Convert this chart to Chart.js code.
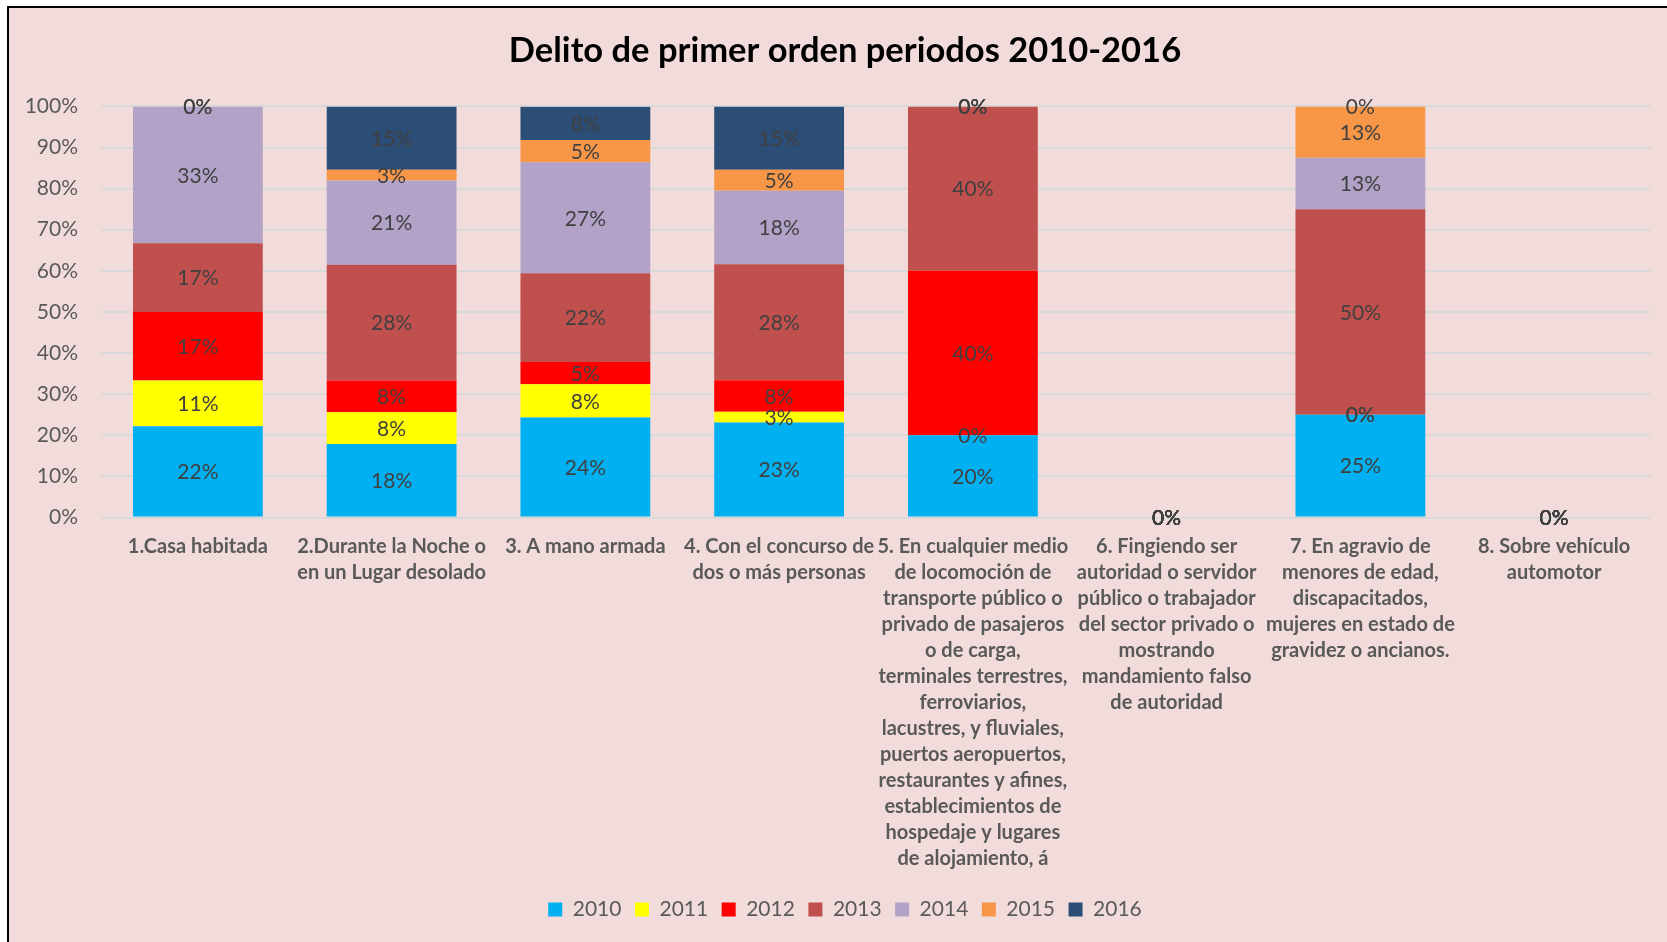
<!DOCTYPE html>
<html>
<head>
<meta charset="utf-8">
<title>Delito de primer orden periodos 2010-2016</title>
<script src="https://cdn.jsdelivr.net/npm/chart.js@4.4.1/dist/chart.umd.min.js"></script>
<style>
  body { margin: 0; width: 1667px; height: 942px; overflow: hidden; background: #fff; position: relative; }
  #frame { position: absolute; left: 7px; top: 6px; width: 1700px; height: 1000px;
           border-left: 2px solid #000; border-top: 2px solid #000; background: #f2dcdb; }
  #chart { position: absolute; left: 0; top: 0; }
</style>
</head>
<body>
<div id="frame"></div>
<canvas id="chart" width="1667" height="942"></canvas>
<script>
'use strict';

// categories (multi-line axis labels, as wrapped in the original)
let categories = [
  ['1.Casa habitada'],
  ['2.Durante la Noche o', 'en un Lugar desolado'],
  ['3. A mano armada'],
  ['4. Con el concurso de', 'dos o más personas'],
  ['5. En cualquier medio', 'de locomoción de', 'transporte público o', 'privado de pasajeros',
   'o de carga,', 'terminales terrestres,', 'ferroviarios,', 'lacustres, y fluviales,',
   'puertos aeropuertos,', 'restaurantes y afines,', 'establecimientos de',
   'hospedaje y lugares', 'de alojamiento, á'],
  ['6. Fingiendo ser', 'autoridad o servidor', 'público o trabajador', 'del sector privado o',
   'mostrando', 'mandamiento falso', 'de autoridad'],
  ['7. En agravio de', 'menores de edad,', 'discapacitados,', 'mujeres en estado de',
   'gravidez o ancianos.'],
  ['8. Sobre vehículo', 'automotor']
];

let years = ['2010', '2011', '2012', '2013', '2014', '2015', '2016'];

// share of each year within a category (%)
let s2010 = [22.2, 17.9, 24.3, 23.1, 20, 0, 25, 0];
let s2011 = [11.1, 7.7, 8.1, 2.6, 0, 0, 0, 0];
let s2012 = [16.7, 7.7, 5.4, 7.7, 40, 0, 0, 0];
let s2013 = [16.7, 28.2, 21.6, 28.2, 40, 0, 50, 0];
let s2014 = [33.3, 20.5, 27.0, 17.9, 0, 0, 12.5, 0];
let s2015 = [0, 2.6, 5.4, 5.1, 0, 0, 12.5, 0];
let s2016 = [0, 15.4, 8.1, 15.4, 0, 0, 0, 0];

let yTicks = [0, 10, 20, 30, 40, 50, 60, 70, 80, 90, 100];

let seriesData = [s2010, s2011, s2012, s2013, s2014, s2015, s2016];
let seriesColors = ['#00b0f0', '#ffff00', '#ff0000', '#c0504d', '#b2a2c7', '#f79646', '#2c4d75'];

let FONT = 'Lato, "Open Sans", sans-serif';

// labels in the middle of each segment, like Excel's "center" data labels
let segmentLabels = {
  id: 'segmentLabels',
  afterDatasetsDraw(chart) {
    let ctx = chart.ctx;
    ctx.save();
    ctx.font = '21px ' + FONT;
    ctx.fillStyle = '#404040';
    ctx.textAlign = 'center';
    ctx.textBaseline = 'middle';
    chart.data.datasets.forEach(function (ds, i) {
      let meta = chart.getDatasetMeta(i);
      meta.data.forEach(function (bar, j) {
        let v = ds.data[j];
        let y = (bar.y + bar.base) / 2;
        ctx.fillText(Math.round(v) + '%', bar.x, y + 1);
      });
    });
    ctx.restore();
  }
};

// the y axis labels are clipped to the scale box, so let the box reach the left edge
let widenYAxis = {
  id: 'widenYAxis',
  afterLayout(chart) {
    chart.scales.y.left = 0;
  }
};

let datasets = [];
for (let i = 0; i < years.length; i++) {
  datasets.push({
    label: years[i],
    data: seriesData[i],
    backgroundColor: seriesColors[i],
    borderWidth: 0,
    barPercentage: 0.67,
    categoryPercentage: 1
  });
}

let config = {
  type: 'bar',
  data: { labels: categories, datasets: datasets },
  plugins: [segmentLabels, widenYAxis],
  options: {
    responsive: false,
    animation: false,
    // the excel chart is wider than the screenshot, so title and legend sit right of centre
    layout: { padding: { left: 39, right: 16, top: 0, bottom: 12 } },
    plugins: {
      tooltip: { enabled: false },
      title: {
        display: true,
        text: 'Delito de primer orden periodos 2010-2016',
        color: '#000',
        font: { family: FONT, size: 34.5, weight: 'bold', lineHeight: 1.2 },
        padding: { top: 30, bottom: 35 }
      },
      legend: {
        position: 'bottom',
        labels: {
          color: '#595959',
          font: { family: FONT, size: 21 },
          boxWidth: 14,
          boxHeight: 14,
          padding: 13.5
        }
      }
    },
    scales: {
      x: {
        stacked: true,
        grid: { display: false, drawTicks: false },
        border: { display: false },
        ticks: {
          color: '#595959',
          font: { family: FONT, size: 20, weight: 'bold', lineHeight: 26 / 20 },
          maxRotation: 0,
          minRotation: 0,
          autoSkip: false,
          padding: 16
        },
        afterFit(scale) { scale.height = 368; }
      },
      y: {
        stacked: true,
        min: 0,
        max: 100,
        grid: { color: '#d9d9d9', lineWidth: 2, drawTicks: false },
        border: { display: false },
        afterBuildTicks(scale) { scale.ticks = yTicks.map(v => ({ value: v })); },
        ticks: {
          color: '#595959',
          font: { family: FONT, size: 21 },
          padding: 23,
          callback: v => v + '%'
        },
        afterFit(scale) { scale.width = 62; }
      }
    }
  }
};

new Chart(document.getElementById('chart'), config);
</script>
</body>
</html>
